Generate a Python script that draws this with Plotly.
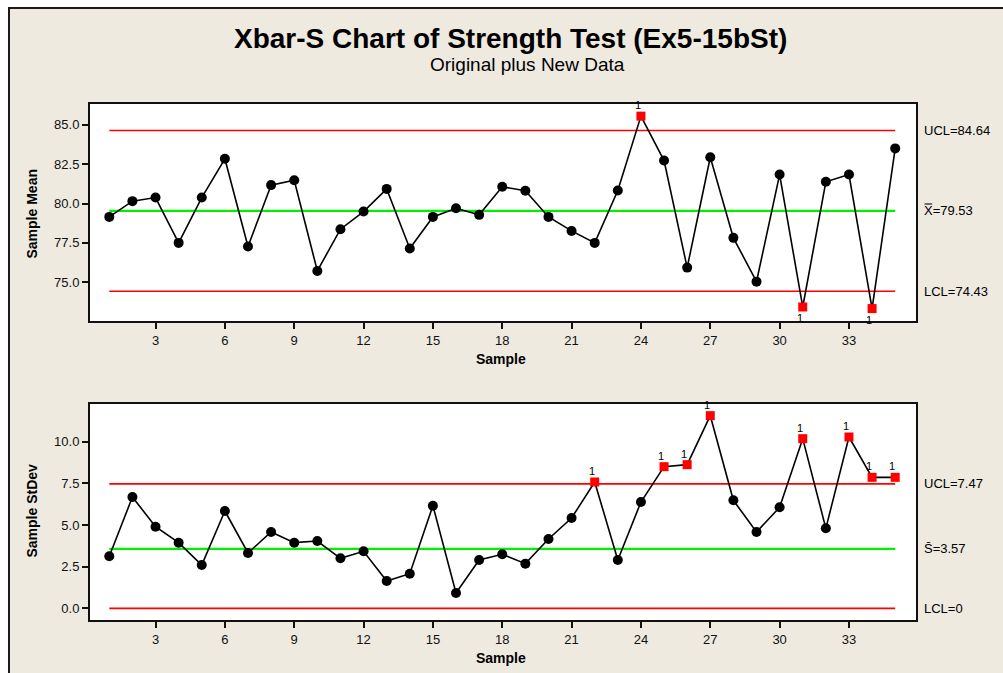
import plotly.graph_objects as go

W, H = 1003, 673

# ---- data ----
samples = list(range(1, 36))
xbar_means = [79.15, 80.15, 80.38, 77.50, 80.38, 82.84, 77.27, 81.17, 81.48, 75.72,
              78.37, 79.49, 80.93, 77.14, 79.15, 79.70, 79.28, 81.06, 80.81, 79.15,
              78.26, 77.50, 80.83, 85.55, 82.73, 75.93, 82.94, 77.82, 75.04, 81.84,
              73.43, 81.38, 81.84, 73.33, 83.50]
sample_stdevs = [3.12, 6.68, 4.90, 3.94, 2.60, 5.84, 3.32, 4.58, 3.94, 4.04,
                 3.00, 3.42, 1.64, 2.08, 6.16, 0.92, 2.90, 3.24, 2.68, 4.16,
                 5.42, 7.58, 2.90, 6.38, 8.50, 8.62, 11.56, 6.48, 4.58, 6.06,
                 10.18, 4.80, 10.28, 7.86, 7.86]
xbar_limits = {"UCL": 84.64, "CL": 79.53, "LCL": 74.43}
s_limits = {"UCL": 7.47, "CL": 3.57, "LCL": 0.0}
x_ticks = list(range(3, 34, 3))
xbar_ticks = [75.0, 77.5, 80.0, 82.5, 85.0]
s_ticks = [0.0, 2.5, 5.0, 7.5, 10.0]

FONT = "Liberation Sans, Arial, sans-serif"
BG = "#EEEAE0"


def px_x(p):
    return p / W


def px_y(p):
    return 1 - p / H


fig = go.Figure()

panels = [
    ("x", "y", xbar_means, xbar_limits, "X\u033F"),
    ("x2", "y2", sample_stdevs, s_limits, "S\u0304"),
]

annotations = []
for xa, ya, vals, lim, cl_sym in panels:
    # control limits and centre line
    for key, color, width in (("UCL", "#FF0000", 1.6), ("LCL", "#FF0000", 1.6), ("CL", "#00F000", 2.2)):
        fig.add_trace(go.Scatter(x=[samples[0], samples[-1]], y=[lim[key]] * 2, mode="lines",
                                 line=dict(color=color, width=width), xaxis=xa, yaxis=ya,
                                 hoverinfo="skip", showlegend=False))
    ooc = [v > lim["UCL"] or v < lim["LCL"] for v in vals]
    fig.add_trace(go.Scatter(
        x=samples, y=vals, mode="lines+markers", xaxis=xa, yaxis=ya, showlegend=False,
        line=dict(color="black", width=1.6),
        marker=dict(symbol=["square" if o else "circle" for o in ooc],
                    color=["#FF0000" if o else "black" for o in ooc],
                    size=[9 if o else 10 for o in ooc], opacity=1, line=dict(width=0)),
    ))
    # test-1 flags
    for s, v, o in zip(samples, vals, ooc):
        if o:
            above = v > lim["UCL"]
            annotations.append(dict(x=s, y=v, xref=xa, yref=ya, text="1", showarrow=False,
                                    xanchor="center", yanchor="middle",
                                    font=dict(family=FONT, size=11, color="#000000"),
                                    xshift=-3, yshift=11 if above else -11))
    # limit labels on the right
    for key, label in (("UCL", f"UCL={lim['UCL']:.2f}"),
                       ("CL", f"{cl_sym}={lim['CL']:.2f}"),
                       ("LCL", f"LCL={lim['LCL']:.2f}" if lim['LCL'] else "LCL=0")):
        annotations.append(dict(x=px_x(922), y=lim[key], xref="paper", yref=ya, text=label,
                                showarrow=False, xanchor="left", yanchor="middle",
                                font=dict(family=FONT, size=13, color="black")))

# titles
def label(x, y, text, size, angle=0):
    return dict(x=px_x(x), y=px_y(y), xref="paper", yref="paper", showarrow=False,
                text=text, textangle=angle, xanchor="center", yanchor="middle",
                font=dict(family=FONT, size=size, color="black"))


annotations += [
    label(510, 38.5, "<b>Xbar-S Chart of Strength Test (Ex5-15bSt)</b>", 28),
    label(527, 64.5, "Original plus New Data", 19),
    label(31.5, 214, "<b>Sample Mean</b>", 14, -90),
    label(31.5, 511, "<b>Sample StDev</b>", 14, -90),
    label(501, 359, "<b>Sample</b>", 14),
    label(501, 658, "<b>Sample</b>", 14),
]

axis_common = dict(showline=True, mirror=True, linecolor="#111111", linewidth=2,
                   ticks="outside", ticklen=6, tickwidth=2, tickcolor="#111111",
                   showgrid=False, zeroline=False,
                   tickfont=dict(family=FONT, size=13, color="#111111"))

x_dom = [px_x(90), px_x(916)]
fig.update_layout(
    width=W, height=H, margin=dict(l=0, r=0, t=0, b=0),
    paper_bgcolor=BG, plot_bgcolor="white",
    annotations=annotations,
    xaxis=dict(domain=x_dom, range=[0.165, 35.9], tickvals=x_ticks, anchor="y", **axis_common),
    yaxis=dict(domain=[px_y(321), px_y(104)], range=[72.54, 86.32], tickvals=xbar_ticks,
               tickformat=".1f", anchor="x", **axis_common),
    xaxis2=dict(domain=x_dom, range=[0.165, 35.9], tickvals=x_ticks, anchor="y2", **axis_common),
    yaxis2=dict(domain=[px_y(620), px_y(404)], range=[-0.70, 12.26], tickvals=s_ticks,
                tickformat=".1f", anchor="x2", **axis_common),
    shapes=[
        dict(type="rect", xref="paper", yref="paper", x0=0, x1=1, y0=px_y(7.5), y1=1,
             fillcolor="white", line=dict(width=0)),
        dict(type="rect", xref="paper", yref="paper", x0=0, x1=px_x(8), y0=0, y1=1,
             fillcolor="white", line=dict(width=0)),
        dict(type="line", xref="paper", yref="paper", x0=px_x(8), x1=1, y0=px_y(8), y1=px_y(8),
             line=dict(color="#1a1a1a", width=2)),
        dict(type="line", xref="paper", yref="paper", x0=px_x(9), x1=px_x(9), y0=0, y1=px_y(7),
             line=dict(color="#1a1a1a", width=2)),
    ],
)

fig.write_html("out.html")
